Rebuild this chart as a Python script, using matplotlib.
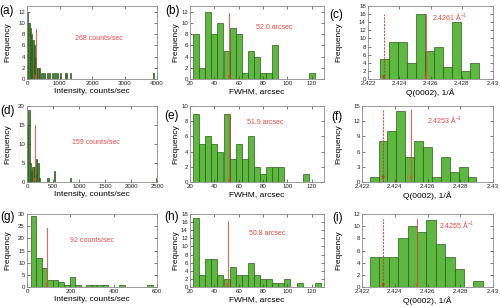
import numpy as np
import matplotlib
matplotlib.use("Agg")
import matplotlib.pyplot as plt
from matplotlib.transforms import blended_transform_factory

plt.rcParams['font.family'] = ['Liberation Sans', 'DejaVu Sans']
plt.rcParams['mathtext.fontset'] = 'custom'
plt.rcParams['mathtext.rm'] = 'Liberation Sans'
plt.rcParams['mathtext.it'] = 'Liberation Sans:italic'

BAR = '#5cb83e'
DBAR = '#3f8a2c'
EDGE = '#2e5a1e'
RED = '#e54a40'
DRED = '#d0321f'

# ---- intensity histograms (counts/sec) ----
a_left = [0, 40, 80, 120, 160, 200, 240, 280, 320, 360,
          440, 520, 600, 680, 760, 840, 920, 1000, 1160, 1200, 1320, 3880]
a_count = [12, 10, 9, 8, 7, 6, 4, 2, 2, 2,
           1, 1, 1, 1, 1, 1, 1, 1, 1, 1, 1, 1]
a_width = 40
a_median, a_top = 268, 8.9

d_left = [0, 25, 50, 75, 100, 125, 150, 175, 200, 225, 390, 510, 825, 2475]
d_count = [15, 19, 5, 3, 4, 4, 2, 6, 5, 1, 1, 3, 1, 1]
d_width = 25
d_median, d_top = 159, 15

g_start, g_width = 17, 25.6
g_count = [29, 12, 8, 3, 3, 2, 1, 4, 1, 0, 1, 1, 1, 1, 0, 0, 1, 0, 0, 0, 0, 1]
g_median, g_top = 92, 24.4

# ---- FWHM histograms (arcsec) ----
fwhm_start, fwhm_width = 22.5, 5
b_count = [8, 2, 12, 8, 10, 5, 9, 8, 1, 5, 4, 1, 1, 6, 0, 0, 0, 0, 0, 1]
b_median, b_top = 52.0, 11.7
e_count = [9, 5, 6, 5, 4, 9, 3, 5, 3, 6, 2, 1, 2, 2, 2, 0, 0, 0, 1]
e_median, e_top = 51.9, 9.0
h_count = [17, 3, 7, 7, 3, 2, 5, 3, 3, 6, 3, 2, 2, 1, 1, 2, 0, 1, 0, 0, 1]
h_median, h_top = 50.8, 16.3

# ---- Q(0002) histograms (1/A) ----
c_lo, c_hi = 2.42275, 2.42910
c_count = [5, 9, 9, 4, 16, 7, 8, 3, 14, 2, 4]
c_ref, c_mean, c_top = 2.4230, 2.4257, 16.0
f_lo, f_hi = 2.42247, 2.42899
f_count = [1, 8, 10, 14, 5, 8, 7, 1, 5, 2, 3, 1]
f_ref, f_mean, f_top = 2.4233, 2.4250, 14.3
i_lo, i_hi = 2.42249, 2.42938
i_count = [5, 5, 5, 8, 10, 9, 11, 7, 5, 3, 0, 1]
i_ref, i_mean, i_top = 2.4233, 2.42535, 11.2

int_label = 'Intensity, counts/sec'
fwhm_label = 'FWHM, arcsec'
q_label = 'Q(0002), 1/Å'
q_ticks = [2.422, 2.424, 2.426, 2.428, 2.43]
q_ticklabels = ['2.422', '2.424', '2.426', '2.428', '2.43']

W, H = 500, 307
fig = plt.figure(figsize=(W / 100, H / 100), dpi=100)


def style(ax, xlim, xticks, ylim, yticks, xlabel, ylab_px, xticklabels=None):
    ax.set_xlim(xlim)
    ax.set_ylim(ylim)
    ax.set_xticks(xticks)
    if xticklabels is not None:
        ax.set_xticklabels(xticklabels)
    ax.set_yticks(yticks)
    ax.tick_params(direction='in', length=2, width=0.5, labelsize=4.4,
                   pad=1.5, top=True, right=True, colors='#444444',
                   labelcolor='#222222')
    for s in ax.spines.values():
        s.set_color('#8a8a8a')
        s.set_linewidth(0.6)
    ax.set_xlabel(xlabel, fontsize=6, labelpad=1.5)
    ax.set_ylabel('Frequency', fontsize=6, va='center')
    tr = blended_transform_factory(fig.transFigure, ax.transAxes)
    ax.yaxis.set_label_coords(ylab_px / W, 0.5, transform=tr)


def marker_line(ax, x, top, color=RED, ls='-'):
    ax.plot([x, x], [0, top], color=color, lw=0.8, ls=ls, alpha=0.85)
    ax.annotate('', xy=(x, 0), xytext=(x, top * 0.08),
                arrowprops=dict(arrowstyle='-|>', color=color, lw=0.6,
                                mutation_scale=4))


def note(ax, fx, fy, s):
    ax.text(fx, fy, s, transform=ax.transAxes, color=RED, fontsize=5,
            ha='center', va='center')


rows = [(0.7427, 0.2378), (0.4072, 0.2476), (0.0651, 0.2378)]
cols = [[(0.054, 0.26), (0.38, 0.268), (0.736, 0.25)],
        [(0.054, 0.26), (0.38, 0.268), (0.724, 0.262)],
        [(0.054, 0.26), (0.38, 0.268), (0.724, 0.262)]]
axs = [[fig.add_axes([cols[r][c][0], rows[r][0], cols[r][c][1], rows[r][1]])
        for c in range(3)] for r in range(3)]
ylab_x = [8, 176, 339]

# (a)
ax = axs[0][0]
ax.bar(a_left, a_count, width=a_width, align='edge', color=DBAR, edgecolor=EDGE, lw=0.5)
marker_line(ax, a_median, a_top)
note(ax, 0.55, 0.56, '%d counts/sec' % a_median)
style(ax, (0, 4000), [0, 1000, 2000, 3000, 4000], (0, 13), range(0, 13, 2),
      int_label, ylab_x[0])

# (d)
ax = axs[1][0]
ax.bar(d_left, d_count, width=d_width, align='edge', color=DBAR, edgecolor=EDGE, lw=0.5)
marker_line(ax, d_median, d_top)
note(ax, 0.53, 0.52, '%d counts/sec' % d_median)
style(ax, (0, 2500), [0, 500, 1000, 1500, 2000, 2500], (0, 20), range(0, 21, 5),
      int_label, ylab_x[0])

# (g)
ax = axs[2][0]
g_left = g_start + g_width * np.arange(len(g_count))
ax.bar(g_left, g_count, width=g_width, align='edge', color=BAR, edgecolor=EDGE, lw=0.5)
marker_line(ax, g_median, g_top)
note(ax, 0.50, 0.64, '%d counts/sec' % g_median)
style(ax, (0, 600), [0, 200, 400, 600], (0, 30), range(0, 31, 5),
      int_label, ylab_x[0])

# FWHM panels
for ax, cnt, med, top, ymax, tx, ty in [
        (axs[0][1], b_count, b_median, b_top, 13, 0.625, 0.70),
        (axs[1][1], e_count, e_median, e_top, 10, 0.56, 0.78),
        (axs[2][1], h_count, h_median, h_top, 18, 0.575, 0.73)]:
    left = fwhm_start + fwhm_width * np.arange(len(cnt))
    ax.bar(left, cnt, width=fwhm_width, align='edge', color=BAR, edgecolor=EDGE, lw=0.5)
    marker_line(ax, med, top)
    note(ax, tx, ty, '%.1f arcsec' % med)
    style(ax, (20, 130), [20, 40, 60, 80, 100, 120], (0, ymax),
          range(0, ymax + 1, 2), fwhm_label, ylab_x[1])

# Q panels
for ax, lo, hi, cnt, ref, mean, top, lab, ymax, ystep, tx, ty in [
        (axs[0][2], c_lo, c_hi, c_count, c_ref, c_mean, c_top, '2.4261', 18, 2, 0.655, 0.86),
        (axs[1][2], f_lo, f_hi, f_count, f_ref, f_mean, f_top, '2.4253', 15, 3, 0.63, 0.82),
        (axs[2][2], i_lo, i_hi, i_count, i_ref, i_mean, i_top, '2.4255', 12, 2, 0.72, 0.86)]:
    edges = np.linspace(lo, hi, len(cnt) + 1)
    ax.bar(edges[:-1], cnt, width=edges[1] - edges[0], align='edge',
           color=BAR, edgecolor=EDGE, lw=0.5)
    marker_line(ax, ref, top, color=DRED, ls=(0, (2, 1)))
    marker_line(ax, mean, top)
    note(ax, tx, ty, lab + r' Å$^{-1}$')
    style(ax, (2.422, 2.43), q_ticks, (0, ymax), range(0, ymax + 1, ystep),
          q_label, ylab_x[2], q_ticklabels)

# panel letters
letters = [('(a)', 14, 11), ('(b)', 180, 11), ('(c)', 343, 15),
           ('(d)', 15, 111), ('(e)', 179, 116), ('(f)', 343, 117),
           ('(g)', 15, 217), ('(h)', 179, 217), ('(i)', 343, 218)]
for s, px, py in letters:
    fig.text(px / W, 1 - py / H, s, fontsize=8.5, ha='right', va='center')

fig.savefig('out.png', dpi=100)
